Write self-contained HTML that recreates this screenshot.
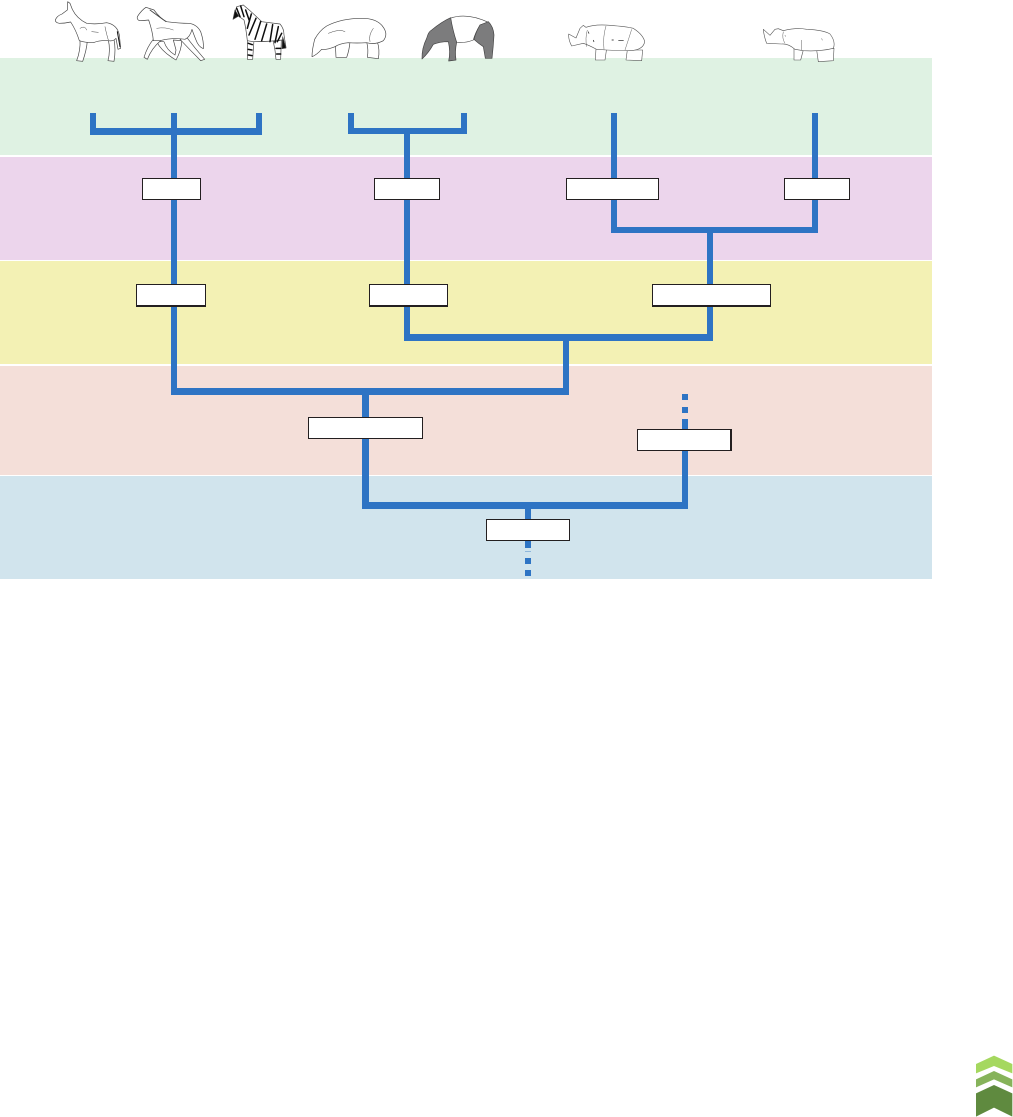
<!DOCTYPE html>
<html><head><meta charset="utf-8"><style>html,body{margin:0;padding:0;background:#fff}svg{display:block}</style></head>
<body>
<svg width="1013" height="1117" viewBox="0 0 1013 1117" xmlns="http://www.w3.org/2000/svg">
<defs><filter id="b" x="-5%" y="-5%" width="110%" height="110%"><feGaussianBlur stdDeviation="0.25"/></filter></defs>
<rect width="1013" height="1117" fill="#fff"/>
<rect x="0" y="58" width="932" height="97" fill="#dff2e3"/>
<rect x="0" y="157" width="932" height="103" fill="#ecd5ec"/>
<rect x="0" y="261" width="932" height="103" fill="#f3f1b4"/>
<rect x="0" y="366" width="932" height="109" fill="#f4dfd9"/>
<rect x="0" y="476" width="932" height="103" fill="#d1e4ed"/>

<g fill="#2e74c4">
<rect x="90" y="113" width="6" height="22"/><rect x="256" y="113" width="6" height="22"/>
<rect x="90" y="128" width="172" height="7"/><rect x="171" y="113" width="6" height="282"/>
<rect x="348" y="113" width="6" height="21"/><rect x="461" y="113" width="6" height="21"/>
<rect x="348" y="128" width="119" height="6"/><rect x="404" y="128" width="6" height="213"/>
<rect x="611" y="113" width="6" height="120"/><rect x="812" y="113" width="6" height="120"/>
<rect x="611" y="227" width="207" height="6"/><rect x="707" y="227" width="6" height="114"/>
<rect x="404" y="334" width="309" height="7"/><rect x="563" y="334" width="6" height="61"/>
<rect x="171" y="388" width="398" height="7"/><rect x="362" y="388" width="7" height="121"/>
<rect x="362" y="502" width="326" height="7"/><rect x="682" y="419" width="6" height="90"/>
<rect x="682" y="394" width="6" height="6"/><rect x="682" y="407" width="6" height="6"/>
<rect x="525" y="502" width="6" height="46"/><rect x="525" y="551" width="6" height="1" opacity=".4"/><rect x="525" y="558" width="6" height="6"/><rect x="525" y="570" width="6" height="6"/>
</g>

<g fill="#fff" stroke="#231f20" stroke-width="1">
<rect x="142.5" y="178.5" width="58" height="21"/>
<rect x="374.5" y="178.5" width="65" height="21"/>
<rect x="566.5" y="178.5" width="92" height="21"/>
<rect x="784.5" y="178.5" width="65" height="21"/>
<rect x="136.5" y="284.5" width="69" height="21.5"/>
<rect x="369.5" y="284.5" width="78" height="21.5"/>
<rect x="652.5" y="284.5" width="118" height="21.5"/>
<rect x="308.5" y="417.5" width="114" height="21"/>
<rect x="637.5" y="429.5" width="93" height="21"/>
<rect x="486.5" y="519.5" width="83" height="21"/>
</g>
<g fill="#231f20">
<rect x="730" y="429" width="2" height="22"/>
<rect x="136" y="305" width="70" height="2"/>
<rect x="369" y="305" width="79" height="2"/>
<rect x="652" y="305" width="119" height="2"/>
</g>

<g filter="url(#b)">
<g transform="translate(40,0) scale(.33333)" fill="#fff" stroke="#444" stroke-width="2" stroke-linejoin="round" stroke-linecap="round">
<!-- donkey -->
<path d="M205,120 Q212,150 204,182 L222,184 Q228,150 222,118 Z"/>
<path d="M120,120 Q122,150 110,182 L128,184 Q140,150 142,122 Z"/>
<path d="M46,60 Q50,48 66,42 L82,30 L83,5 L90,10 L97,28 Q110,55 140,70 Q170,74 200,68 Q232,74 238,105 Q240,125 242,145 L234,148 L228,115 Q220,125 205,122 Q180,120 160,128 Q135,128 118,122 Q108,90 92,66 Q75,70 58,70 Q46,68 46,60 Z"/>
<path d="M120,85 Q135,75 140,90M155,95 L175,97M195,80 Q200,105 205,120" fill="none" stroke-width="1.5"/>
<path d="M232,95 L240,140" fill="none" stroke="#111" stroke-width="3"/>
<!-- horse -->
<path d="M350,125 Q362,150 395,172 L408,180 Q425,150 425,122 L400,120 L408,150 L405,165 Q380,150 372,125 Z"/>
<path d="M340,118 Q322,140 312,172 L322,178 Q335,145 362,122 Z"/>
<path d="M420,118 Q450,150 482,182 L494,178 Q465,145 440,112 Z"/>
<path d="M292,50 Q305,30 318,22 L342,30 Q360,55 380,65 Q420,70 445,70 Q470,72 482,95 Q492,125 490,146 Q475,140 468,120 Q460,100 456,88 Q450,112 435,118 Q400,112 360,122 L340,122 Q338,95 326,60 Q310,62 298,62 Q290,58 292,50 Z"/>
<path d="M330,30 Q350,45 378,65" fill="none" stroke-width="2.5"/>
<path d="M350,85 Q375,80 400,90" fill="none" stroke-width="1.3"/>
<!-- zebra -->
<path d="M700,125 Q706,150 708,178 L722,178 L724,120 Z"/>
<path d="M622,115 L622,178 L638,178 L642,120 Z"/>
<path d="M580,55 L590,20 L610,15 Q640,40 665,65 L720,72 Q732,85 732,105 L738,142 L726,120 Q690,125 640,125 L622,122 Q618,85 612,60 L595,48 Z"/>
<g fill="none" stroke="#111" stroke-width="4.5">
<path d="M590,25 L600,50M602,18 L612,50M617,30 L628,62M634,42 L622,85M648,55 L627,105M662,65 L645,118M680,72 L665,122M698,74 L690,125M715,80 L705,128M725,100 L712,125M625,130 L637,134M625,148 L636,150M625,165 L636,167M708,145 L722,145M710,162 L722,162"/>
</g>
<path d="M579,58 L585,30 L596,48 Z" fill="#111"/>
<path d="M728,110 L738,144 L726,146 Z" fill="#111"/>
<!-- tapir -->
<path d="M980,125 Q986,150 982,172 L1015,176 Q1020,150 1012,125 Z"/>
<path d="M886,130 L888,172 L920,172 Q928,150 930,125 Z"/>
<path d="M816,170 Q816,150 824,118 Q838,92 860,78 Q905,55 965,55 Q1015,55 1032,85 Q1044,105 1030,122 Q1005,135 980,128 Q950,130 925,128 Q900,130 885,140 Q860,150 845,148 Q830,165 816,170 Z"/>
<path d="M865,100 Q900,85 915,95M1000,85 Q985,105 990,125" fill="none" stroke-width="1.5"/>
</g>

<!-- malayan tapir -->
<g transform="translate(410,5) scale(.33333)" stroke="#444" stroke-width="2" stroke-linejoin="round">
<path d="M120,40 Q170,22 235,52 L210,60 Q195,85 190,105 Q165,115 140,112 Q128,80 120,40 Z" fill="#fff"/>
<path d="M36,162 Q35,130 50,100 Q55,80 65,75 Q95,50 122,38 Q128,75 140,112 Q134,140 138,165 L116,168 Q122,140 115,110 Q90,110 70,118 Q55,145 36,162 Z" fill="#7b7b7d"/>
<path d="M210,60 L235,50 Q250,65 252,90 Q250,125 246,160 L226,160 L220,125 Q205,115 192,103 Q198,80 210,60 Z" fill="#7b7b7d"/>
</g>

<g transform="translate(550,10) scale(.33333)" fill="#fff" stroke="#555" stroke-width="1.8" stroke-linejoin="round">
<!-- rhino 1 -->
<path d="M232,120 L228,150 L275,152 L278,120 Z"/>
<path d="M138,115 L136,150 L165,150 L170,115 Z"/>
<path d="M56,72 L78,84 L90,55 L100,46 L108,52 Q135,42 180,46 Q230,50 250,55 Q280,75 284,95 Q280,120 240,122 Q200,122 170,120 L140,118 Q115,105 100,100 L65,108 Q55,90 56,72 Z"/>
<path d="M112,60 Q105,85 110,110M168,48 Q158,80 162,118M245,58 Q235,90 225,120" fill="none" stroke-width="1.4"/>
<path d="M185,90 h6M205,92 h16M115,65 l2,6M130,90 l2,6" fill="none" stroke="#111" stroke-width="2"/>
<!-- rhino 2 -->
<path d="M800,120 L805,155 L850,152 L852,115 Z"/>
<path d="M732,115 L732,150 L752,150 L760,120 Z"/>
<path d="M640,58 L660,76 L675,58 L685,56 L700,62 Q740,52 770,58 Q820,60 840,72 Q858,95 850,115 Q810,125 760,122 L735,118 Q715,100 695,102 L650,100 Q642,80 640,58 Z"/>
<path d="M700,65 Q695,85 705,100M755,90 L755,120M815,85 l2,6M705,75 l1,5" fill="none" stroke-width="1.4"/>
</g>
</g>

<g transform="translate(960,1040) scale(.33333)">
<path d="M48,72 L102,47 L157,72 L157,100 L102,78 L48,100 Z" fill="#a5d85f"/>
<path d="M48,118 L102,93 L157,118 L157,142 L102,118 L48,142 Z" fill="#86b35a"/>
<path d="M48,160 L102,135 L157,160 L157,230 L102,203 L48,230 Z" fill="#5f8a3f"/>
</g>
</svg>
</body></html>
